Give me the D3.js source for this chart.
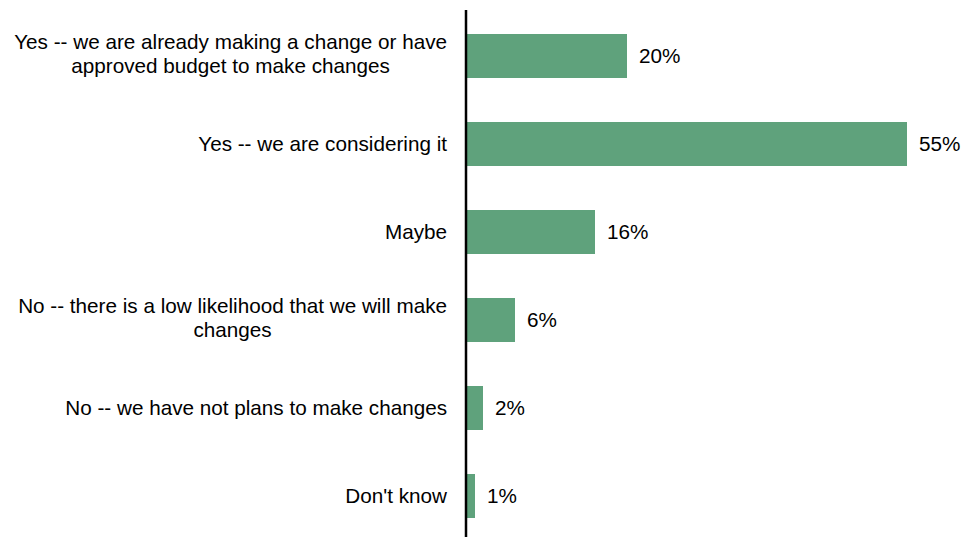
<!DOCTYPE html>
<html>
<head>
<meta charset="utf-8">
<script src="https://cdn.jsdelivr.net/npm/d3@7"></script>
<style>
  html, body { margin: 0; padding: 0; background: #ffffff; }
  svg { display: block; }
  text { font-family: "Liberation Sans", Arial, sans-serif; fill: #000; }
</style>
</head>
<body>
<svg id="chart" width="963" height="537"></svg>
<script>
// Survey responses, one entry per answer, top to bottom
const categories = [
  ["Yes -- we are already making a change or have", "approved budget to make changes"],
  ["Yes -- we are considering it"],
  ["Maybe"],
  ["No -- there is a low likelihood that we will make", "changes"],
  ["No -- we have not plans to make changes"],
  ["Don't know"]
];
const values = [20, 55, 16, 6, 2, 1];
const valueLabels = ["20%", "55%", "16%", "6%", "2%", "1%"];

const W = 963, H = 537;
const svg = d3.select("#chart");

const keys = categories.map((c, i) => i);
const y = d3.scaleBand()
  .domain(keys)
  .range([12, 540])
  .paddingInner(0.5)
  .paddingOuter(0.25);

const x = d3.scaleLinear()
  .domain([0, 55])
  .range([467, 907]);

const barColor = "#5fa27c";
const fontSize = 20.7;
const lineGap = 24;

// bars
svg.append("g")
  .selectAll("rect")
  .data(values)
  .join("rect")
  .attr("x", x(0))
  .attr("y", (d, i) => y(i))
  .attr("width", d => x(d) - x(0))
  .attr("height", y.bandwidth())
  .attr("fill", barColor);

// value labels at the end of each bar
svg.append("g")
  .selectAll("text")
  .data(values)
  .join("text")
  .attr("x", d => x(d) + 12)
  .attr("y", (d, i) => y(i) + y.bandwidth() / 2)
  .attr("dy", "0.35em")
  .style("font-size", fontSize + "px")
  .text((d, i) => valueLabels[i]);

// category labels: block right-aligned near the axis, lines centred within it
const labelRight = 447;
const catG = svg.append("g");
categories.forEach((lines, i) => {
  const cy = y(i) + y.bandwidth() / 2 - (lines.length > 1 ? 2.5 : 0);
  const g = catG.append("g");
  const texts = lines.map((line, j) =>
    g.append("text")
      .attr("y", cy + (j - (lines.length - 1) / 2) * lineGap)
      .attr("dy", "0.35em")
      .attr("text-anchor", "middle")
      .style("font-size", fontSize + "px")
      .text(line)
  );
  const maxW = d3.max(texts, t => t.node().getComputedTextLength());
  texts.forEach(t => t.attr("x", labelRight - maxW / 2));
});

// vertical category axis line
svg.append("line")
  .attr("x1", 466)
  .attr("x2", 466)
  .attr("y1", 10)
  .attr("y2", H)
  .attr("stroke", "#000")
  .attr("stroke-width", 2.5);
</script>
</body>
</html>
